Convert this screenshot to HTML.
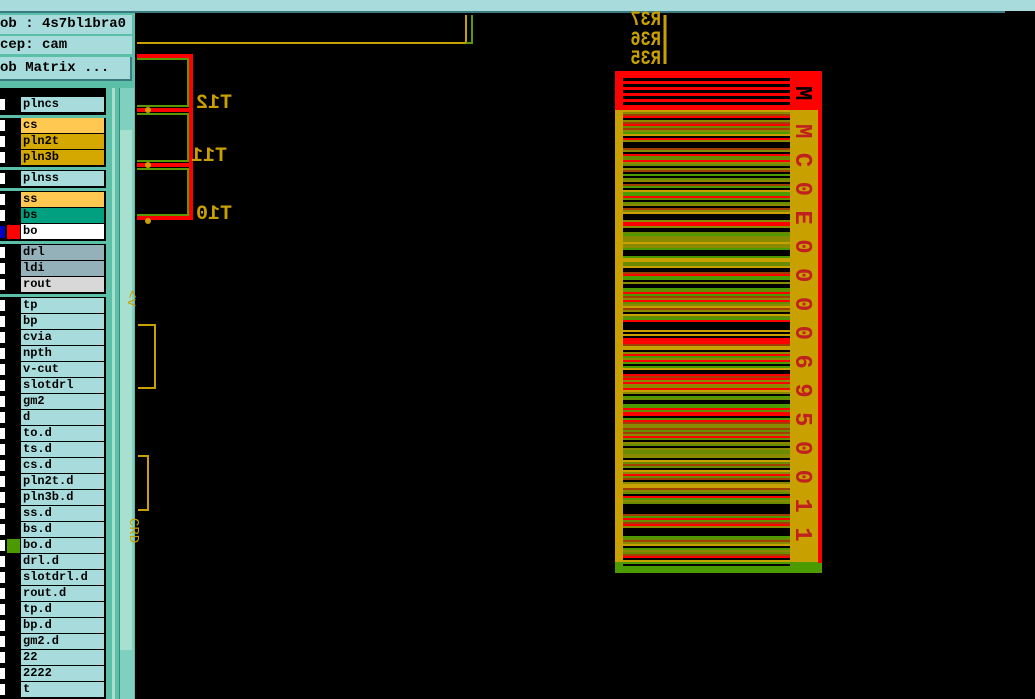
<!DOCTYPE html>
<html><head><meta charset="utf-8"><style>
html,body{margin:0;width:1035px;height:699px;background:#000;overflow:hidden}
body{position:relative;font-family:"Liberation Mono",monospace}
.abs{position:absolute}
.row{position:absolute;left:21px;width:83px;height:15px;font:bold 12px "Liberation Mono",monospace;line-height:15px;padding-left:2px;box-sizing:border-box;color:#000}
.cb{position:absolute;left:0;width:5px;height:11px;background:#fff}
.sep{position:absolute;left:0;width:108px;height:3px;background:#5cc0a8}
</style></head><body>
<div class="abs" style="left:0;top:0;width:1005px;height:11px;background:#a8dcdc;border-bottom:2px solid #3a7a80"></div>
<div class="abs" style="left:1005px;top:0;width:30px;height:11px;background:#a8dcdc"></div>
<div class="abs" style="left:0;top:13px;width:135px;height:686px;background:#5cc0a8"></div>
<div class="abs" style="left:0;top:15px;width:132px;height:19px;background:#a8dcdc;font:bold 14px 'Liberation Mono',monospace;line-height:19px">ob : 4s7bl1bra0</div>
<div class="abs" style="left:0;top:36px;width:132px;height:18px;background:#a8dcdc;font:bold 14px 'Liberation Mono',monospace;line-height:18px">cep: cam</div>
<div class="abs" style="left:0;top:57px;width:130px;height:22px;background:#a8dcdc;border-right:2px solid #3a7a80;border-bottom:2px solid #3a7a80;font:bold 14px 'Liberation Mono',monospace;line-height:22px">ob Matrix ...</div>
<div class="abs" style="left:0;top:88px;width:106px;height:611px;background:#000"></div>
<div class="abs" style="left:108px;top:88px;width:27px;height:611px;background:#5cc0a8"></div>
<div class="abs" style="left:112px;top:88px;width:3px;height:611px;background:#a8e0d0"></div>
<div class="abs" style="left:119px;top:88px;width:14px;height:611px;background:#80d0c0;border-left:1px solid #3a8a80"></div>
<div class="abs" style="left:120px;top:130px;width:12px;height:520px;background:#a8e0d0"></div>
<div id="list"></div>
<svg class="abs" style="left:0;top:0;overflow:hidden" width="1035" height="699">
<path d="M137 43 H466 V15" stroke="#c8a000" stroke-width="2" fill="none"/>
<path d="M466 43 h6 V15" stroke="#5a9a00" stroke-width="2" fill="none"/>
<path d="M137 56 H191 V218 H137 M137 110 H191 M137 165 H191" stroke="#f00" stroke-width="4" fill="none"/>
<path d="M137 59 H188 V106 H137 M137 114 H188 V161 H137 M137 169 H188 V215 H137" stroke="#5a9a00" stroke-width="2" fill="none"/>
<circle cx="148" cy="110" r="3" fill="#c8a000"/><circle cx="148" cy="165" r="3" fill="#c8a000"/><circle cx="148" cy="221" r="3" fill="#c8a000"/>
<g fill="#c8a000" font-family="Liberation Mono" font-weight="bold" font-size="20">
<text transform="translate(232,108) scale(-1,1)">T12</text>
<text transform="translate(227,161) scale(-1,1)">T11</text>
<text transform="translate(232,219) scale(-1,1)">T10</text>
<text transform="translate(661,64) scale(-1,1.2)" font-size="17">R35</text>
<text transform="translate(661,45) scale(-1,1.2)" font-size="17">R36</text>
<text transform="translate(661,25) scale(-1,1.2)" font-size="17">R37</text>
</g>
<path d="M665 15 V64" stroke="#c8a000" stroke-width="3"/>
<path d="M138 325 H155 V388 H138 M138 456 H148 V510 H138" stroke="#c8a000" stroke-width="2" fill="none"/>
<text x="138" y="300" fill="#c8a000" font-size="14" font-family="Liberation Mono" transform="rotate(90 138 290)">&lt;v</text>
<text x="138" y="530" fill="#c8a000" font-size="14" font-family="Liberation Mono" transform="rotate(90 140 520)">CRD</text>
<rect x="615" y="71" width="207" height="40" fill="#f00"/>
<rect x="615" y="110" width="207" height="453" fill="#c8a000"/>
<rect x="615" y="562" width="207" height="11" fill="#4a9a00"/>
<rect x="818" y="110" width="4" height="453" fill="#f00"/>
<g id="bars"></g>
<g font-family="Liberation Mono" font-weight="bold" font-size="24">
<text x="0" y="0" transform="translate(796,86) rotate(90)" fill="#000">M</text>
<text x="0" y="0" transform="translate(796,124) rotate(90)" fill="#c02020" letter-spacing="14.4">MC0E00006950011</text>
</g>
</svg>
<script>
var L=[["plncs",97,"#a8dcdc"],["cs",118,"#ffc850"],["pln2t",134,"#d4a800"],["pln3b",150,"#d4a800"],["plnss",171,"#a8dcdc"],["ss",192,"#ffc850"],["bs",208,"#00a080"],["bo",224,"#fff"],["drl",245,"#94b0b8"],["ldi",261,"#94b0b8"],["rout",277,"#d8d8d8"]];
var n=["tp","bp","cvia","npth","v-cut","slotdrl","gm2","d","to.d","ts.d","cs.d","pln2t.d","pln3b.d","ss.d","bs.d","bo.d","drl.d","slotdrl.d","rout.d","tp.d","bp.d","gm2.d","22","2222","t"];
n.forEach(function(s,i){L.push([s,298+16*i,"#a8dcdc"])});
var h="";L.forEach(function(r){h+='<div class="row" style="top:'+r[1]+'px;background:'+r[2]+'">'+r[0]+'</div><div class="cb" style="top:'+(r[1]+2)+'px"></div>'});
[115,167,188,241,294].forEach(function(y){h+='<div class="sep" style="top:'+y+'px"></div>'});
h+='<div class="abs" style="left:0;top:226px;width:5px;height:12px;background:#0000c0"></div><div class="abs" style="left:7px;top:225px;width:13px;height:14px;background:#f00"></div><div class="abs" style="left:7px;top:539px;width:13px;height:14px;background:#4a9a00"></div>';
document.getElementById("list").innerHTML=h;
var s=7,g="",c=["#f00","#000","#4a9a00","#8a8a00","#a04000","#000","#c8a000","#6a8a00"];
function rnd(){s=(s*9301+49297)%233280;return s/233280}
for(var y=78;y<108;y+=6)g+='<rect x="623" y="'+y+'" width="167" height="3" fill="#000"/>';
for(var y=112;y<560;y+=2){g+='<rect x="623" y="'+y+'" width="167" height="2" fill="'+c[Math.floor(rnd()*c.length)]+'"/>'}
g+='<rect x="623" y="564" width="167" height="2" fill="#000"/>';
document.getElementById("bars").innerHTML=g;
</script>
</body></html>
